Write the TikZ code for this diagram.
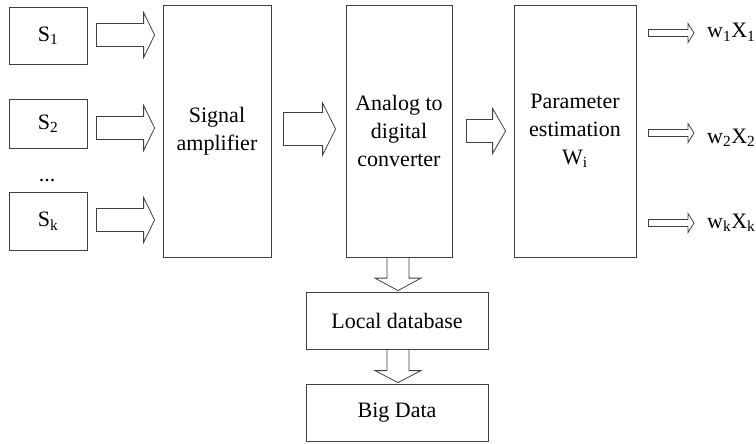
\documentclass[tikz,border=0pt]{standalone}
\usepackage{fontspec}
\setmainfont{Liberation Serif}
\usetikzlibrary{calc}
\newcommand\sbs[1]{\textsubscript{#1}}
% horizontal block arrow: start, end, shaft half-height, head half-height, head length
\newcommand\harrow[5]{\draw[blk] ($(#1)+(0,-#3)$) -- ($(#2)+(-#5,-#3)$) -- ($(#2)+(-#5,-#4)$) -- (#2) -- ($(#2)+(-#5,#4)$) -- ($(#2)+(-#5,#3)$) -- ($(#1)+(0,#3)$) -- cycle;}
% vertical (downward) block arrow
\newcommand\varrow[5]{\draw[blk] ($(#1)+(-#3,0)$) -- ($(#2)+(-#3,-#5)$) -- ($(#2)+(-#4,-#5)$) -- (#2) -- ($(#2)+(#4,-#5)$) -- ($(#2)+(#3,-#5)$) -- ($(#1)+(#3,0)$) -- cycle;}
\begin{document}
\begin{tikzpicture}[x=1pt,y=-1pt,
  box/.style={draw=black!75, line width=0.8pt, inner sep=0pt, align=center,
    font=\rmfamily\fontsize{22}{28}\selectfont},
  blk/.style={draw=black!75, line width=0.8pt, fill=white},
  lbl/.style={font=\rmfamily\fontsize{22}{28}\selectfont, inner sep=0pt, anchor=base west}]
\useasboundingbox (0,0) rectangle (756,444);
% source boxes
\node[box, minimum width=78, minimum height=57] (s1) at (48,35.5) {S\sbs{1}};
\node[box, minimum width=78, minimum height=49] (s2) at (48,123.5) {S\sbs{2}};
\node[box, minimum width=78, minimum height=58] (sk) at (48,221) {S\sbs{k}};
\node[font=\rmfamily\fontsize{22}{28}\selectfont, inner sep=0pt, anchor=base] (dots) at (47,181) {...};
% main blocks
\node[box, minimum width=108, minimum height=252] (sa) at (217,131) {Signal\\amplifier};
\node[box, minimum width=106, minimum height=252] (adc) at (399,131) {Analog to\\digital\\converter};
\node[box, minimum width=122, minimum height=252] (pe) at (575,131) {Parameter\\estimation\\W\sbs{i}};
\node[box, minimum width=182, minimum height=57] (ldb) at (397,320.5) {Local database};
\node[box, minimum width=182, minimum height=57] (bd) at (397,412.5) {Big Data};
% output labels
\node[lbl] (o1) at (707,38) {w\sbs{1}X\sbs{1}};
\node[lbl] (o2) at (707,143) {w\sbs{2}X\sbs{2}};
\node[lbl] (ok) at (707,228) {w\sbs{k}X\sbs{k}};
% sources -> amplifier
\coordinate (a1s) at ($(s1.east)+(9,-0.5)$);
\coordinate (a1e) at ($(a1s -| sa.west)+(-8,0)$);
\harrow{a1s}{a1e}{11.5}{22.5}{11}
\coordinate (a2s) at ($(s2.east)+(9,4.5)$);
\coordinate (a2e) at ($(a2s -| sa.west)+(-8,0)$);
\harrow{a2s}{a2e}{11.5}{22.5}{11}
\coordinate (aks) at ($(sk.east)+(9,-1)$);
\coordinate (ake) at ($(aks -| sa.west)+(-8,0)$);
\harrow{aks}{ake}{11.5}{22.5}{11}
% amplifier -> ADC
\coordinate (b1s) at ($(sa.east)+(12,-2)$);
\coordinate (b1e) at ($(b1s -| adc.west)+(-10,0)$);
\harrow{b1s}{b1e}{16.5}{26}{13}
% ADC -> parameter estimation
\coordinate (c1s) at ($(adc.east)+(14,0)$);
\coordinate (c1e) at ($(c1s -| pe.west)+(-8,0)$);
\harrow{c1s}{c1e}{11.5}{22.5}{13}
% outputs
\coordinate (o1s) at ($(pe.east |- 0,33)+(12,0)$);
\coordinate (o1e) at ($(o1s -| o1.west)+(-13,0)$);
\harrow{o1s}{o1e}{3.5}{9.5}{6}
\coordinate (o2s) at ($(pe.east |- 0,133)+(12,0)$);
\coordinate (o2e) at ($(o2s -| o2.west)+(-13,0)$);
\harrow{o2s}{o2e}{3.5}{9.5}{6}
\coordinate (oks) at ($(pe.east |- 0,223)+(12,0)$);
\coordinate (oke) at ($(oks -| ok.west)+(-13,0)$);
\harrow{oks}{oke}{3.5}{9.5}{6}
% ADC -> local database -> big data
\coordinate (d1s) at ($(adc.south)+(-1,0)$);
\coordinate (d1e) at ($(d1s |- ldb.north)+(0,-1)$);
\varrow{d1s}{d1e}{11}{23}{12.5}
\coordinate (d2s) at ($(ldb.south)+(1,0)$);
\coordinate (d2e) at ($(d2s |- bd.north)+(0,-1)$);
\varrow{d2s}{d2e}{11}{23}{12}
\end{tikzpicture}
\end{document}
